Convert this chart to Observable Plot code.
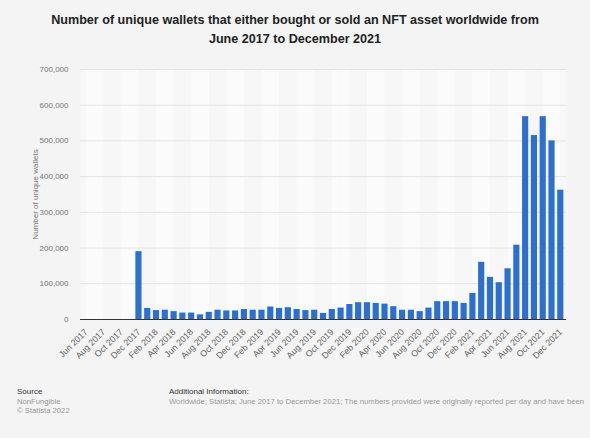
<!DOCTYPE html>
<html><head><meta charset="utf-8">
<script src="https://cdn.jsdelivr.net/npm/d3@7"></script>
<script src="https://cdn.jsdelivr.net/npm/@observablehq/plot@0.6"></script>
<style>
body{margin:0;background:#f4f4f4;font-family:"Liberation Sans",Arial,sans-serif;}
#wrap{position:relative;width:590px;height:438px;overflow:hidden;background:#f4f4f4;}
#title{position:absolute;top:11px;left:0;width:590px;text-align:center;font-weight:bold;font-size:12.6px;line-height:19px;color:#222;}
#chart{position:absolute;top:55px;left:0;}
.foot{position:absolute;font-size:7.7px;line-height:9.5px;white-space:nowrap;color:#999;}
.foot b{font-weight:normal;color:#333;font-size:8px;}
</style></head>
<body><div id="wrap">
<div id="title">Number of unique wallets that either bought or sold an NFT asset worldwide from<br>June 2017 to December 2021</div>
<div id="chart"></div>
<div class="foot" style="left:17px;top:387px;"><b>Source</b><br>NonFungible<br>© Statista 2022</div>
<div class="foot" style="left:169px;top:387px;"><b>Additional Information:</b><br>Worldwide; Statista; June 2017 to December 2021; The numbers provided were originally reported per day and have been</div>
</div>
<script>
const months = [
"Jun 2017","Jul 2017","Aug 2017","Sep 2017","Oct 2017","Nov 2017","Dec 2017",
"Jan 2018","Feb 2018","Mar 2018","Apr 2018","May 2018","Jun 2018","Jul 2018","Aug 2018","Sep 2018","Oct 2018","Nov 2018","Dec 2018",
"Jan 2019","Feb 2019","Mar 2019","Apr 2019","May 2019","Jun 2019","Jul 2019","Aug 2019","Sep 2019","Oct 2019","Nov 2019","Dec 2019",
"Jan 2020","Feb 2020","Mar 2020","Apr 2020","May 2020","Jun 2020","Jul 2020","Aug 2020","Sep 2020","Oct 2020","Nov 2020","Dec 2020",
"Jan 2021","Feb 2021","Mar 2021","Apr 2021","May 2021","Jun 2021","Jul 2021","Aug 2021","Sep 2021","Oct 2021","Nov 2021","Dec 2021"];
const wallets = [
0,0,0,0,0,0,190000,
31000,25000,26000,22000,18000,18000,13000,20000,26000,24000,24000,28000,
26000,26000,35000,31000,33000,28000,25000,26000,17000,28000,32000,42000,
47000,47000,45000,43000,36000,26000,26000,22000,32000,50000,50000,50000,
45000,73000,160000,118000,103000,142000,208000,568000,515000,568000,500000,362000];
const yTicks = [0,100000,200000,300000,400000,500000,600000,700000];
const xTicks = months.filter((d,i)=>i%2===0);
const yLabel = "Number of unique wallets";

const W = 590, H = 325, mL = 80, mR = 24;
const step = (W - mL - mR) / months.length;
const data = months.map((m,i)=>({month:m, value:wallets[i], i}));
const bands = data.filter(d => Math.floor(d.i/2) % 2 === 0);

const chart = Plot.plot({
  width: W, height: H,
  marginTop: 14, marginBottom: 61, marginLeft: mL, marginRight: mR,
  style: {background: "transparent", fontFamily: "Liberation Sans, Arial, sans-serif"},
  x: {type: "band", domain: months, padding: 0.3},
  y: {domain: [0, 700000]},
  marks: [
    Plot.frame({fill: "#f7f7f7", stroke: "none"}),
    Plot.barY(bands, {x: "month", y1: 0, y2: 700000, fill: "#fbfbfb", inset: 0, insetLeft: -step*0.15, insetRight: -step*0.15, dx: step/2}),
    Plot.gridY(yTicks, {stroke: "#e4e4e4", strokeOpacity: 1}),
    Plot.barY(data, {x: "month", y: "value", fill: "#2c6fd4"}),
    Plot.ruleY([0], {stroke: "#333", strokeWidth: 1}),
    Plot.axisY(yTicks, {tickSize: 0, tickPadding: 12, tickFormat: d3.format(","), fontSize: 8, fill: "#777", label: null}),
    Plot.axisX(xTicks, {tickSize: 0, tickPadding: 11, tickRotate: -45, fontSize: 8.8, fill: "#666", label: null}),
    Plot.text([yLabel], {frameAnchor: "left", textAnchor: "middle", dx: -45, rotate: -90, fontSize: 8, fill: "#777"})
  ]
});
document.getElementById("chart").appendChild(chart);
</script>
</body></html>
